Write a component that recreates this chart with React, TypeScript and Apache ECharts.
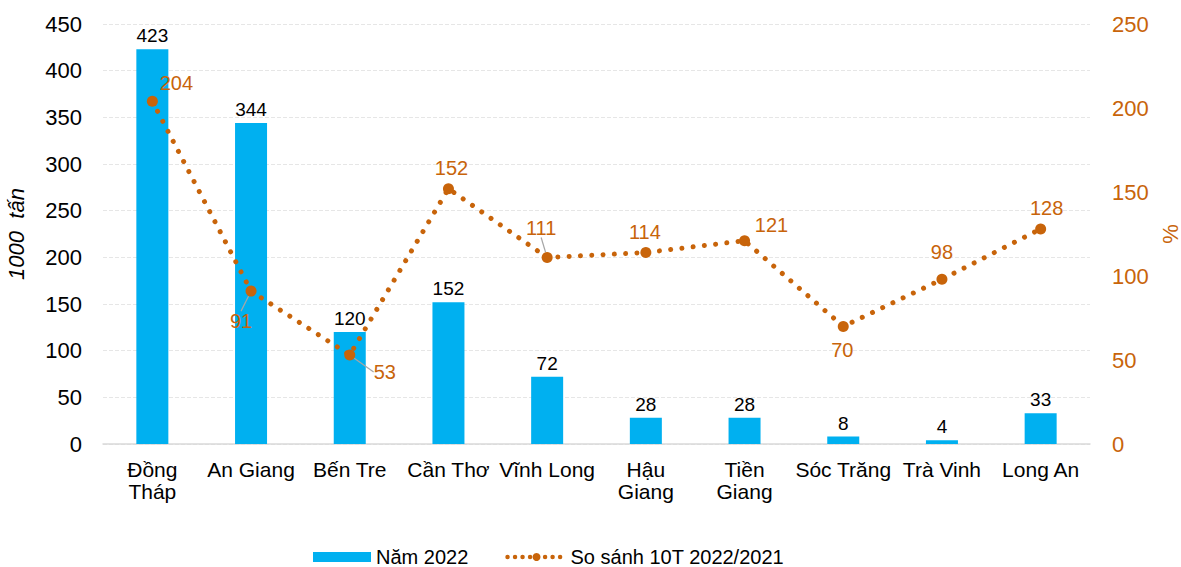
import React, { useEffect, useRef } from "react";
import * as echarts from "echarts";

const categories = ["Đồng\nTháp", "An Giang", "Bến Tre", "Cần Thơ", "Vĩnh Long", "Hậu\nGiang", "Tiền\nGiang", "Sóc Trăng", "Trà Vinh", "Long An"];
const barValues = [423, 344, 120, 152, 72, 28, 28, 8, 4, 33];
const lineValues = [204, 91, 53, 152, 111, 114, 121, 70, 98, 128];
const leftTicks = { min: 0, max: 450, interval: 50 };
const rightTicks = { min: 0, max: 250, interval: 50 };
// label offsets (dx, dy) relative to point, and whether a leader line is drawn
const lineLabelOffsets: [number, number, boolean][] = [
  [24, -18, false],
  [-10, 30, true],
  [35, 17, true],
  [3, -21, false],
  [-6, -30, true],
  [-1, -20, false],
  [27, -16, false],
  [-1, 24, false],
  [0, -27, false],
  [6, -21, false],
];

const FONT = "'Liberation Sans', Arial, sans-serif";
const BAR_COLOR = "#00B0F0";
const LINE_COLOR = "#C8640A";

export default function App() {
  const ref = useRef<HTMLDivElement>(null);
  useEffect(() => {
    if (!ref.current) return;
    document.body.style.margin = "0";
    document.body.style.overflow = "hidden";
    const chart = echarts.init(ref.current, undefined, { renderer: "svg", width: 1181, height: 567 });
    chart.setOption({
      animation: false,
      textStyle: { fontFamily: FONT },
      grid: { left: 103, right: 91, top: 24, bottom: 123, containLabel: false, outerBoundsMode: "none" },
      legend: {
        top: 542,
        left: 308,
        itemGap: 37,
        itemWidth: 58,
        itemHeight: 10,
        textStyle: { fontSize: 20, color: "#000", fontFamily: FONT },
        data: [
          { name: "Năm 2022", icon: "rect" },
          { name: "So sánh 10T 2022/2021", lineStyle: { type: [0.01, 7.5], width: 4.5, cap: "round" } },
        ],
      },
      xAxis: {
        type: "category",
        data: categories,
        axisLine: { lineStyle: { color: "#D9D9D9", width: 1.5 } },
        axisTick: { show: false },
        axisLabel: { color: "#000", fontSize: 21, lineHeight: 22, margin: 14, interval: 0, fontFamily: FONT },
      },
      yAxis: [
        {
          type: "value",
          ...leftTicks,
          name: "1000  tấn",
          nameLocation: "middle",
          nameGap: 76,
          nameRotate: 90,
          nameTextStyle: { fontSize: 22, fontStyle: "italic", color: "#000", fontFamily: FONT },
          axisLine: { show: false },
          axisTick: { show: false },
          splitLine: { lineStyle: { color: "#E6E6E6", type: "dashed", width: 1 } },
          axisLabel: { color: "#000", fontSize: 22, margin: 21, fontFamily: FONT },
        },
        {
          type: "value",
          ...rightTicks,
          name: "%",
          nameLocation: "middle",
          nameGap: 68,
          nameRotate: 90,
          nameTextStyle: { fontSize: 22, color: LINE_COLOR, fontFamily: FONT },
          axisLine: { show: false },
          axisTick: { show: false },
          splitLine: { show: false },
          axisLabel: { color: LINE_COLOR, fontSize: 22, margin: 22, fontFamily: FONT },
        },
      ],
      series: [
        {
          name: "Năm 2022",
          type: "bar",
          data: barValues,
          barWidth: 32,
          itemStyle: { color: BAR_COLOR },
          label: { show: true, position: "top", distance: 4, color: "#000", fontSize: 19, fontFamily: FONT },
        },
        {
          name: "So sánh 10T 2022/2021",
          type: "line",
          yAxisIndex: 1,
          data: lineValues.map((v, i) => ({
            value: v,
            labelLine: { show: lineLabelOffsets[i][2] },
          })),
          symbol: "circle",
          symbolSize: 11,
          itemStyle: { color: LINE_COLOR },
          lineStyle: { color: LINE_COLOR, width: 5, type: [0.01, 11.3], cap: "round" },
          label: { show: true, position: "inside", color: LINE_COLOR, fontSize: 20, fontFamily: FONT },
          labelLine: { show: false, lineStyle: { color: "#A6A6A6", width: 1.2 } },
          labelLayout: (p: any) => ({
            dx: lineLabelOffsets[p.dataIndex][0],
            dy: lineLabelOffsets[p.dataIndex][1],
          }),
        },
      ],
    });
    return () => chart.dispose();
  }, []);
  return <div ref={ref} style={{ width: 1181, height: 567, position: "absolute", left: 0, top: 0 }} />;
}
